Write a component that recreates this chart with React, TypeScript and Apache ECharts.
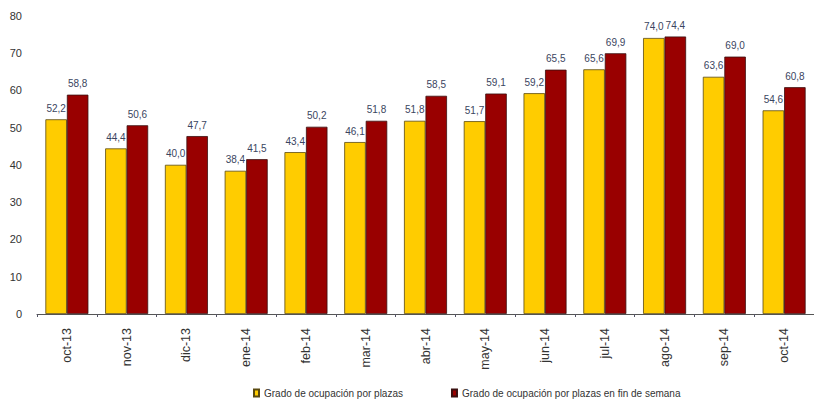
import React, { useEffect, useRef } from "react";
import * as echarts from "echarts";

const categories = ["oct-13", "nov-13", "dic-13", "ene-14", "feb-14", "mar-14", "abr-14", "may-14", "jun-14", "jul-14", "ago-14", "sep-14", "oct-14"];
const plazas = [52.2, 44.4, 40.0, 38.4, 43.4, 46.1, 51.8, 51.7, 59.2, 65.6, 74.0, 63.6, 54.6];
const plazasFinSemana = [58.8, 50.6, 47.7, 41.5, 50.2, 51.8, 58.5, 59.1, 65.5, 69.9, 74.4, 69.0, 60.8];
const seriesNames = ["Grado de ocupación por plazas", "Grado de ocupación por plazas en fin de semana"];

const fmt = (p: any) => Number(p.value).toFixed(1).replace(".", ",");

export default function App() {
  const ref = useRef<HTMLDivElement>(null);
  useEffect(() => {
    if (!ref.current) return;
    const chart = echarts.init(ref.current, null, { renderer: "svg" });
    const label = {
      show: true,
      position: "top" as const,
      distance: 6,
      formatter: fmt,
      fontSize: 10,
      color: "#3a4560",
      fontFamily: "Liberation Sans, Arial, sans-serif",
    };
    chart.setOption({
      animation: false,
      textStyle: { fontFamily: "Liberation Sans, Arial, sans-serif" },
      grid: { left: 37, width: 783, top: 15.6, height: 298.4, containLabel: false },
      legend: {
        data: seriesNames,
        left: 248,
        top: 383,
        itemWidth: 5,
        itemHeight: 7,
        itemGap: 48,
        icon: "rect",
        textStyle: { fontSize: 10, color: "#333" },
      },
      xAxis: {
        type: "category",
        data: categories,
        axisLine: { show: true, lineStyle: { color: "#555", width: 1 } },
        axisTick: { show: true, length: 3, lineStyle: { color: "#556" } },
        axisLabel: { rotate: 90, fontSize: 12.5, color: "#333", margin: 14, interval: 0 },
      },
      yAxis: {
        type: "value",
        min: 0,
        max: 80,
        interval: 10,
        splitLine: { show: false },
        axisLine: { show: false },
        axisTick: { show: false },
        axisLabel: { fontSize: 11, color: "#333", margin: 15 },
      },
      series: [
        {
          name: seriesNames[0],
          type: "bar",
          data: plazas,
          barWidth: 21.5,
          barGap: "0%",
          itemStyle: { color: "#FFCC00", borderColor: "#5a4a10", borderWidth: 0.8 },
          label,
        },
        {
          name: seriesNames[1],
          type: "bar",
          data: plazasFinSemana,
          barWidth: 21.5,
          barGap: "0%",
          itemStyle: { color: "#990000", borderColor: "#3a1010", borderWidth: 0.8 },
          label,
        },
      ],
    });
    return () => chart.dispose();
  }, []);
  return <div ref={ref} style={{ width: 814, height: 401, position: "absolute", left: 0, top: 0 }} />;
}
